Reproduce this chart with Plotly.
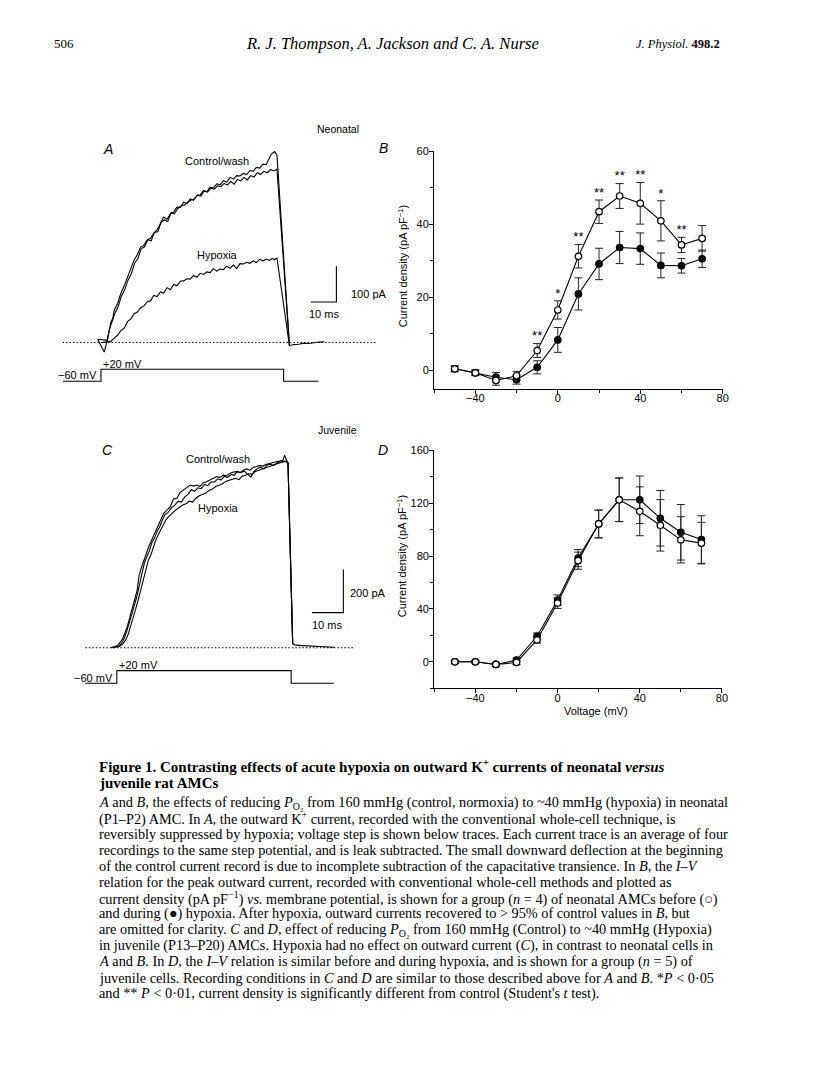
import plotly.graph_objects as go

W, H = 816, 1088

# ---------------- data ----------------
# Panel A: neonatal current traces (time in ms from step onset, current in pA)
a_ctrl_t = [-1.3, 1.3, 2.6, 3.9, 4.6, 5.2, 6.5, 7.8, 9.0, 10.4, 11.6, 13.0, 14.2, 15.6, 16.8, 18.1,
            19.4, 20.7, 22.0, 23.3, 24.6, 25.9, 27.2, 28.5, 29.8, 31.1, 32.4, 33.7, 35.0, 36.3, 37.6,
            38.9, 40.2, 41.5, 42.8, 44.1, 45.4, 46.7, 48.0, 49.3, 50.6, 51.9, 53.2, 54.5, 55.8, 57.1,
            58.4, 59.7, 60.9, 62.2, 63.5, 64.8, 65.5, 66.8, 68.1, 69.0, 73.9, 75.5, 77.5, 79.5, 81.5,
            83.5, 85.5, 87.5]
a_ctrl_i = [9, -27, 10, 58, 66, 90, 108, 137, 156, 183, 201, 230, 244, 267, 271, 286,
            291, 305, 314, 333, 350, 344, 359, 364, 378, 377, 392, 388, 401, 397, 410,
            412, 424, 421, 433, 432, 443, 440, 452, 448, 461, 456, 466, 465, 472, 469,
            480, 478, 489, 487, 498, 497, 508, 526, 533, 523, -9, -6, -5, -2, -3,
            0, 1, 2]
a_wash_t = [-1.3, 1.0, 2.4, 3.4, 4.4, 5.5, 6.7, 8.0, 9.3, 10.6, 11.9, 13.2, 14.5, 15.8, 17.1, 18.4,
            19.7, 21.0, 22.3, 23.6, 24.9, 26.2, 27.5, 28.8, 30.1, 31.4, 32.7, 34.0, 35.3, 36.6, 37.9,
            39.2, 40.5, 41.8, 43.1, 44.4, 45.7, 47.0, 48.3, 49.6, 50.9, 52.2, 53.5, 54.8, 56.1, 57.4,
            58.7, 60.0, 61.3, 62.6, 63.9, 65.2, 66.5, 67.8, 69.0, 73.9]
a_wash_i = [9, 8, 6, 38, 60, 82, 99, 129, 147, 174, 192, 221, 235, 262, 267, 287,
            284, 308, 309, 336, 342, 338, 363, 359, 374, 381, 384, 390, 398, 401, 412,
            409, 423, 420, 431, 428, 437, 435, 444, 440, 450, 442, 455, 451, 461, 454,
            466, 462, 474, 469, 478, 474, 483, 479, 484, -9]
a_hyp_t = [0.5, 2.5, 3.9, 5.2, 6.5, 7.8, 9.1, 10.4, 11.7, 13.0, 14.3, 15.6, 16.9, 18.2, 19.4, 20.7,
           22.0, 23.3, 24.6, 25.9, 27.2, 28.5, 29.8, 31.1, 32.4, 33.7, 35.0, 36.3, 37.6, 38.9, 40.2,
           41.5, 42.8, 44.1, 45.4, 46.7, 48.0, 49.3, 50.6, 51.9, 53.2, 54.5, 55.8, 57.1, 58.4, 59.7,
           60.9, 62.2, 63.5, 64.8, 66.1, 67.1, 68.1, 69.0, 73.9]
a_hyp_i = [0, 1, 3, 12, 20, 33, 40, 58, 66, 80, 85, 97, 102, 114, 116, 131,
           128, 141, 138, 153, 147, 162, 158, 171, 172, 178, 177, 187, 182, 193, 190,
           197, 195, 206, 199, 205, 203, 213, 207, 216, 206, 220, 219, 224, 221, 228,
           223, 232, 228, 233, 229, 235, 231, 236, -9]
a_step_t = [-14.9, 0, 0, 71.6, 71.6, 85.2]
a_step_mv = [-60, -60, 20, 20, -60, -60]

# Panel C: juvenile current traces
c_ctrl_t = [-1.9, 0.2, 1.0, 1.8, 2.6, 3.4, 4.1, 4.9, 5.7, 6.5, 7.0, 7.6, 8.1, 8.6, 9.4, 10.2, 11.0,
            11.8, 12.6, 13.3, 14.1, 14.9, 16.0, 17.0, 18.0, 19.1, 20.1, 21.2, 22.2, 23.3, 24.3, 25.4,
            26.4, 27.5, 28.5, 29.6, 30.6, 31.7, 32.8, 33.9, 34.9, 35.9, 37.0, 38.1, 39.1, 40.2, 41.2,
            42.3, 43.3, 44.4, 45.4, 46.5, 47.5, 48.6, 49.6, 50.7, 51.7, 52.8, 53.3, 54.4, 55.9, 57.0,
            59.0, 61.0, 63.0, 65.0, 67.0, 69.1]
c_ctrl_i = [0, 10, 25, 40, 70, 101, 140, 178, 225, 270, 330, 362, 385, 409, 440, 471, 498,
            524, 550, 578, 600, 624, 640, 655, 690, 694, 720, 732, 745, 755, 750, 755,
            748, 766, 770, 778, 786, 794, 790, 801, 798, 809, 815, 817, 812, 824, 830,
            824, 836, 840, 846, 843, 851, 855, 860, 863, 866, 870, 893, 855, 17, 12,
            10, 8, 6, 5, 3, 2]
c_wash_t = [-1.5, 0.6, 1.6, 2.4, 3.2, 4.0, 4.8, 5.6, 6.4, 7.2, 8.0, 8.8, 9.6, 10.4, 11.2, 12.0,
            12.8, 13.6, 14.4, 15.3, 16.3, 17.4, 18.4, 19.5, 20.5, 21.6, 22.6, 23.7, 24.7, 25.8, 26.8,
            27.9, 28.9, 30.0, 31.0, 32.1, 33.1, 34.2, 35.2, 36.3, 37.3, 38.4, 39.4, 40.5, 41.5, 42.6,
            43.6, 44.7, 45.7, 46.8, 47.8, 48.9, 49.9, 51.0, 52.0, 53.1, 54.4, 55.9]
c_wash_i = [0, 8, 22, 45, 78, 115, 150, 198, 240, 300, 345, 395, 420, 452, 490, 510,
            540, 560, 590, 618, 628, 650, 662, 680, 676, 700, 712, 734, 726, 742, 738,
            758, 752, 770, 768, 784, 778, 796, 790, 804, 800, 818, 812, 820, 806, 792,
            818, 832, 838, 830, 848, 852, 846, 858, 862, 866, 858, 17]
c_hyp_t = [-1.2, 0.8, 1.9, 2.8, 3.6, 4.4, 5.2, 6.0, 6.8, 7.6, 8.4, 9.2, 10.0, 10.8, 11.6, 12.4,
           13.2, 14.0, 14.8, 15.7, 16.7, 17.8, 18.8, 19.9, 20.9, 22.0, 23.0, 24.1, 25.1, 26.2, 27.2,
           28.3, 29.3, 30.4, 31.4, 32.5, 33.5, 34.6, 35.6, 36.7, 37.7, 38.8, 39.8, 40.9, 41.9, 43.0,
           44.0, 45.1, 46.1, 47.2, 48.2, 49.3, 50.3, 51.4, 52.4, 53.5, 54.4, 55.9]
c_hyp_i = [0, 6, 18, 35, 62, 98, 138, 180, 222, 268, 318, 372, 405, 430, 468, 500,
           525, 548, 575, 596, 612, 628, 640, 652, 662, 668, 680, 676, 694, 705, 712,
           718, 730, 736, 748, 756, 760, 772, 778, 782, 786, 780, 796, 800, 808, 804,
           818, 824, 828, 836, 840, 846, 852, 856, 860, 866, 858, 17]
c_step_t = [-12.6, 0, 0, 55.4, 55.4, 68.9]
c_step_mv = [-60, -60, 20, 20, -60, -60]

# Panels B and D: I-V relations (mV, pA/pF, mean +/- s.e.m.)
volts = [-50, -40, -30, -20, -10, 0, 10, 20, 30, 40, 50, 60, 70]
b_ctrl = [0.4, -0.7, -2.8, -1.5, 5.4, 16.5, 31.2, 43.4, 47.7, 45.7, 40.9, 34.3, 36.1]
b_ctrl_err = [0.8, 0.8, 1.3, 1.2, 1.9, 2.5, 3.2, 3.2, 3.4, 5.7, 5.5, 2.1, 3.5]
b_hyp = [0.4, -0.7, -1.9, -2.6, 0.8, 8.3, 20.9, 29.1, 33.6, 33.3, 28.7, 28.6, 30.5]
b_hyp_err = [0.8, 0.7, 1.3, 1.2, 1.8, 3.4, 4.4, 4.3, 4.4, 4.3, 3.4, 2.0, 2.4]
b_sig = ["", "", "", "", "**", "*", "**", "**", "**", "**", "*", "**", ""]

d_ctrl = [0, 0, -2, -0.5, 16.6, 44.4, 76.5, 104.3, 122.6, 113.9, 103.3, 92.3, 89.8]
d_ctrl_err = [1, 1, 1, 1.5, 2.5, 4, 6.5, 10.5, 16.5, 18.5, 19.5, 17.5, 15.7]
d_hyp = [0, 0, -2, 1.3, 19.3, 46.6, 78.5, 104.3, 122.6, 122.6, 108.6, 98, 92.5]
d_hyp_err = [1, 1, 1, 1.5, 2.5, 4, 6.5, 10.5, 16.5, 18, 21, 21, 18]

# scale bars (ms, pA)
a_bar_t0, a_bar_i0 = 82.3, 112.8
c_bar_t0, c_bar_i0 = 62.0, 162.9

caption_title = [
    "Figure 1. Contrasting effects of acute hypoxia on outward K<sup>+</sup> currents of neonatal <i>versus</i>",
    "juvenile rat AMCs",
]
caption_body = [
    "<i>A</i> and <i>B</i>, the effects of reducing <i>P</i><sub>O₂</sub> from 160 mmHg (control, normoxia) to ~40 mmHg (hypoxia) in neonatal",
    "(P1–P2) AMC. In <i>A</i>, the outward K<sup>+</sup> current, recorded with the conventional whole-cell technique, is",
    "reversibly suppressed by hypoxia; voltage step is shown below traces. Each current trace is an average of four",
    "recordings to the same step potential, and is leak subtracted. The small downward deflection at the beginning",
    "of the control current record is due to incomplete subtraction of the capacitative transience. In <i>B</i>, the <i>I–V</i>",
    "relation for the peak outward current, recorded with conventional whole-cell methods and plotted as",
    "current density (pA pF<sup>−1</sup>) <i>vs.</i> membrane potential, is shown for a group (<i>n</i> = 4) of neonatal AMCs before (○)",
    "and during (●) hypoxia. After hypoxia, outward currents recovered to &gt; 95% of control values in <i>B</i>, but",
    "are omitted for clarity. <i>C</i> and <i>D</i>, effect of reducing <i>P</i><sub>O₂</sub> from 160 mmHg (Control) to ~40 mmHg (Hypoxia)",
    "in juvenile (P13–P20) AMCs. Hypoxia had no effect on outward current (<i>C</i>), in contrast to neonatal cells in",
    "<i>A</i> and <i>B</i>. In <i>D</i>, the <i>I–V</i> relation is similar before and during hypoxia, and is shown for a group (<i>n</i> = 5) of",
    "juvenile cells. Recording conditions in <i>C</i> and <i>D</i> are similar to those described above for <i>A</i> and <i>B</i>. *<i>P</i> &lt; 0·05",
    "and ** <i>P</i> &lt; 0·01, current density is significantly different from control (Student's <i>t</i> test).",
]

SANS = "Liberation Sans, Arial, sans-serif"
SERIF = "Liberation Serif, Times New Roman, serif"


def dx(a, b):
    return [a / W, b / W]


def dy(top, bottom):
    return [1 - bottom / H, 1 - top / H]


fig = go.Figure()
trace_line = dict(color="black", width=1.1)

# Panel A
for t, i in [(a_ctrl_t, a_ctrl_i), (a_wash_t, a_wash_i), (a_hyp_t, a_hyp_i)]:
    fig.add_trace(go.Scatter(x=t, y=i, mode="lines", line=trace_line, xaxis="x", yaxis="y"))
fig.add_trace(go.Scatter(x=a_step_t, y=a_step_mv, mode="lines", line=trace_line, xaxis="x2", yaxis="y2"))

# Panel C
for t, i in [(c_ctrl_t, c_ctrl_i), (c_wash_t, c_wash_i), (c_hyp_t, c_hyp_i)]:
    fig.add_trace(go.Scatter(x=t, y=i, mode="lines", line=trace_line, xaxis="x4", yaxis="y4"))
fig.add_trace(go.Scatter(x=c_step_t, y=c_step_mv, mode="lines", line=trace_line, xaxis="x5", yaxis="y5"))


def iv_trace(y, err, filled, xa, ya):
    return go.Scatter(
        x=volts, y=y, mode="lines+markers", xaxis=xa, yaxis=ya,
        line=dict(color="black", width=1.1),
        marker=dict(size=6.5, symbol="circle", color="black" if filled else "white",
                    line=dict(color="black", width=1.2)),
        error_y=dict(type="data", array=err, visible=True, thickness=1, width=4, color="#222"),
    )


fig.add_trace(iv_trace(b_hyp, b_hyp_err, True, "x3", "y3"))
fig.add_trace(iv_trace(b_ctrl, b_ctrl_err, False, "x3", "y3"))

# significance stars above the control error bars
sig_idx = [k for k, s in enumerate(b_sig) if s]
fig.add_trace(go.Scatter(
    x=[volts[k] for k in sig_idx], y=[b_ctrl[k] + b_ctrl_err[k] for k in sig_idx],
    text=[b_sig[k] for k in sig_idx], mode="text",
    textposition="top center", textfont=dict(family=SANS, size=13, color="black"),
    xaxis="x3", yaxis="y3"))
fig.add_trace(iv_trace(d_hyp, d_hyp_err, True, "x6", "y6"))
fig.add_trace(iv_trace(d_ctrl, d_ctrl_err, False, "x6", "y6"))

hidden = dict(visible=False, showgrid=False, zeroline=False, fixedrange=True)


def iv_axis(dom, rng, dtick, minor, anchor, is_x):
    return dict(domain=dom, range=rng, anchor=anchor, showline=True, linecolor="black", linewidth=1.2,
                ticks="outside", ticklen=4, tickwidth=1.2, tickcolor="black", showgrid=False,
                zeroline=False, tickmode="linear", tick0=0, dtick=dtick,
                ticklabelstandoff=-5 if is_x else -2,
                tickfont=dict(family=SANS, size=11, color="black"),
                minor=dict(ticks="outside", ticklen=3, tickwidth=1, tickcolor="black", dtick=minor,
                           showgrid=False))


fig.update_layout(
    width=W, height=H, margin=dict(l=0, r=0, t=0, b=0),
    paper_bgcolor="white", plot_bgcolor="white", showlegend=False,
    xaxis=dict(domain=dx(63, 380), range=[-15.06, 108.3], anchor="y", **hidden),
    yaxis=dict(domain=dy(140, 350), range=[-32.5, 550.8], anchor="x", **hidden),
    xaxis2=dict(domain=dx(63, 380), range=[-15.06, 108.3], anchor="y2", **hidden),
    yaxis2=dict(domain=dy(355, 385), range=[-111.3, 88.7], anchor="x2", **hidden),
    xaxis3=iv_axis(dx(437.3, 728.3), [-60, 80.1], 40, 20, "y3", True),
    yaxis3=iv_axis(dy(145.7, 385), [-5.1, 60.05], 20, 10, "x3", False),
    xaxis4=dict(domain=dx(86, 357), range=[-10.0, 75.5], anchor="y4", **hidden),
    yaxis4=dict(domain=dy(440, 652), range=[-30.9, 947.4], anchor="x4", **hidden),
    xaxis5=dict(domain=dx(86, 357), range=[-10.0, 75.5], anchor="y5", **hidden),
    yaxis5=dict(domain=dy(658, 690), range=[-116.6, 84.7], anchor="x5", **hidden),
    xaxis6=iv_axis(dx(437.5, 727.5), [-60, 80.1], 40, 20, "y6", True),
    yaxis6=iv_axis(dy(446.7, 686), [-20, 160.1], 40, 20, "x6", False),
)

# dotted baselines and scale bars
shapes = []
for xa, ya in [("x", "y"), ("x4", "y4")]:
    shapes.append(dict(type="line", xref=xa + " domain", yref=ya, x0=0, x1=1, y0=0, y1=0,
                       line=dict(color="black", width=1, dash="1.5px,2px")))
for xa, ya, t0, i0, di in [("x", "y", a_bar_t0, a_bar_i0, 100), ("x4", "y4", c_bar_t0, c_bar_i0, 200)]:
    shapes.append(dict(type="path", xref=xa, yref=ya,
                       path=f"M {t0},{i0} L {t0 + 10},{i0} L {t0 + 10},{i0 + di}",
                       line=dict(color="black", width=1.1)))
fig.update_layout(shapes=shapes)


def txt(x, y, text, size=11, xanchor="center", family=SANS, angle=0, color="black"):
    fig.add_annotation(x=x / W, y=1 - y / H, xref="paper", yref="paper", text=text, showarrow=False,
                       xanchor=xanchor, yanchor="middle", textangle=angle,
                       font=dict(family=family, size=size, color=color))


# header
txt(52, 38, "506", 13, "left", SERIF)
txt(395, 38, "<i>R. J. Thompson, A. Jackson and C. A. Nurse</i>", 16.5, "center", SERIF)
txt(727, 38, "<i>J. Physiol.</i> <b>498.2</b>", 12.5, "right", SERIF)

# panel labels and trace labels
txt(340, 124, "Neonatal", 10.5)
txt(340, 426, "Juvenile", 10.5)
for x, y, s in [(108.3, 143.3, "A"), (386, 142.3, "B"), (108.3, 446, "C"), (386, 446.7, "D")]:
    txt(x, y, f"<i>{s}</i>", 14)
txt(218.3, 156, "Control/wash", 11)
txt(219, 250.7, "Hypoxia", 11)
txt(220, 456, "Control/wash", 11)
txt(220, 505, "Hypoxia", 11)
txt(351.7, 290, "100 pA", 11, "left")
txt(326, 310, "10 ms", 11)
txt(351, 590, "200 pA", 11, "left")
txt(329, 622.7, "10 ms", 11)
txt(101.7, 360, "+20 mV", 11, "left")
txt(100, 370.7, "−60 mV", 11, "right")
txt(117.7, 662.7, "+20 mV", 11, "left")
txt(116, 675.7, "−60 mV", 11, "right")
txt(406, 261.7, "Current density (pA pF<sup>−1</sup>)", 11, angle=-90)
txt(405, 553.3, "Current density (pA pF<sup>−1</sup>)", 11, angle=-90)
txt(600, 709.3, "Voltage (mV)", 11)

# caption
for k, line in enumerate(caption_title):
    txt(98, 764.5 + 17 * k, f"<b>{line}</b>", 15, "left", SERIF)
for k, line in enumerate(caption_body):
    txt(98, 801 + 16 * k, line, 14.3, "left", SERIF)

fig.write_html("out.html", config={"displayModeBar": False},
               post_script="document.body.style.margin = '0px';")
